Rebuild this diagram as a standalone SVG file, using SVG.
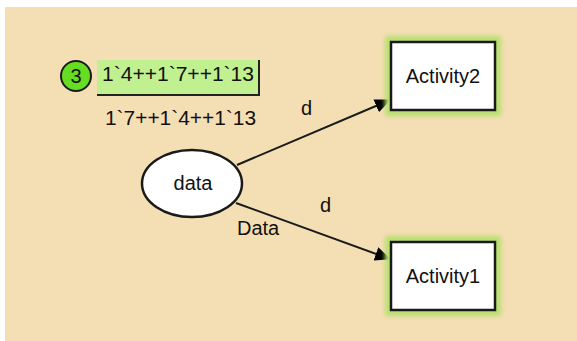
<svg xmlns="http://www.w3.org/2000/svg" width="577" height="341" viewBox="0 0 577 341">
<defs>
<style>
text{font-family:"Liberation Sans",Arial,sans-serif;font-size:20px;fill:#111}
.box{fill:#fff;stroke:#1a1a1a;stroke-width:2.5}
.arc{stroke:#1a1a1a;stroke-width:2;fill:none;marker-end:url(#ah)}
</style>
<marker id="ah" viewBox="0 0 16 14" refX="15" refY="7" markerWidth="16" markerHeight="14" markerUnits="userSpaceOnUse" orient="auto">
<path d="M0,0 L16,7 L0,14 z" fill="#000"/>
</marker>
<filter id="blur" x="-20%" y="-20%" width="140%" height="140%"><feGaussianBlur stdDeviation="2"/></filter>
</defs>
<rect x="0" y="0" width="577" height="341" fill="#fff"/>
<rect x="5" y="7" width="572" height="334" fill="#F4DEB4"/>
<g id="connectors">
<path class="arc" d="M237,165 L390,100"/>
<path class="arc" d="M236,203 L390,259"/>
<text x="301" y="115">d</text>
<text x="320" y="212">d</text>
<text x="237" y="235">Data</text>
</g>
<g id="data">
<ellipse cx="192" cy="183.5" rx="50" ry="33.5" fill="#fff" stroke="#1a1a1a" stroke-width="2.5"/>
<text x="193" y="190" text-anchor="middle">data</text>
<text x="105" y="125" textLength="151" lengthAdjust="spacingAndGlyphs">1`7++1`4++1`13</text>
</g>
<g id="marking">
<circle cx="76" cy="76" r="15" fill="#66dd22" stroke="#1a1a1a" stroke-width="2"/>
<text x="76" y="83" text-anchor="middle">3</text>
<rect x="97" y="60" width="162" height="35" fill="#c0f090"/>
<path d="M97,95 L259,95 L259,60" fill="none" stroke="#222" stroke-width="2"/>
<text x="102" y="81" textLength="152" lengthAdjust="spacingAndGlyphs">1`4++1`7++1`13</text>
</g>
<g id="Activity2">
<rect x="385" y="36" width="116" height="80" fill="#b8e070" filter="url(#blur)"/>
<rect class="box" x="391" y="42" width="104" height="68"/>
<text x="443" y="83" text-anchor="middle" font-size="19">Activity2</text>
</g>
<g id="Activity1">
<rect x="385" y="236" width="116" height="80" fill="#b8e070" filter="url(#blur)"/>
<rect class="box" x="391" y="242" width="104" height="68"/>
<text x="443" y="283" text-anchor="middle" font-size="19">Activity1</text>
</g>
</svg>
